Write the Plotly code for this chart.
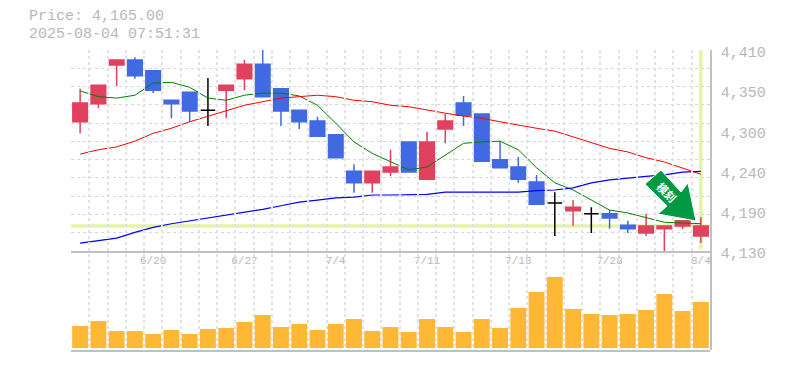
import plotly.graph_objects as go

dates = ["6/16","6/17","6/18","6/19","6/20","6/23","6/24","6/25","6/26","6/27",
         "6/30","7/1","7/2","7/3","7/4","7/7","7/8","7/9","7/10","7/11",
         "7/14","7/15","7/16","7/17","7/18","7/22","7/23","7/24","7/25","7/28",
         "7/29","7/30","7/31","8/1","8/4"]
opens = [4310,4335,4389,4396,4381,4340,4351,4326,4354,4370,
         4390,4356,4326,4311,4292,4241,4225,4240,4282,4230,
         4300,4336,4321,4257,4247,4226,4197,4186,4182,4182,
         4166,4155,4161,4165,4151]
highs = [4356,4361,4396,4400,4381,4340,4351,4371,4361,4396,
         4410,4356,4326,4317,4292,4251,4241,4271,4282,4296,
         4321,4346,4321,4283,4261,4236,4212,4201,4191,4187,
         4172,4182,4165,4172,4177]
lows = [4294,4329,4360,4370,4350,4315,4310,4304,4315,4354,
        4345,4304,4300,4290,4260,4211,4211,4234,4240,4230,
        4280,4304,4255,4246,4225,4195,4151,4165,4155,4161,
        4155,4151,4130,4161,4141]
closes = [4336,4361,4396,4374,4354,4335,4325,4326,4361,4390,
          4345,4325,4310,4290,4260,4225,4241,4247,4240,4282,
          4311,4319,4255,4246,4230,4195,4197,4191,4182,4176,
          4161,4165,4165,4172,4165]
ma_short = [4353,4345,4343,4347,4364,4365,4358,4343,4340,4347,
            4350,4350,4346,4333,4308,4282,4266,4254,4243,4247,
            4264,4280,4282,4283,4271,4246,4225,4215,4201,4187,
            4183,4176,4170,4169,4168]
ma_mid = [4265,4271,4275,4283,4294,4301,4310,4318,4325,4333,
          4338,4343,4345,4347,4345,4340,4338,4333,4331,4326,
          4322,4318,4315,4310,4305,4301,4297,4289,4282,4273,
          4268,4260,4254,4246,4237]
ma_long = [4141,4144,4148,4156,4163,4168,4172,4175,4180,4183,
           4188,4193,4198,4201,4204,4205,4208,4208,4208,4209,
           4212,4212,4212,4212,4212,4214,4215,4218,4225,4229,
           4232,4234,4236,4240,4241]
volumes = [22,27,17,17,14,18,14,19,20,26,33,21,24,18,24,29,17,21,16,29,
           21,16,29,20,40,56,71,39,34,33,34,38,54,37,46]
label_dates = ["6/20","6/27","7/4","7/11","7/18","7/28","8/4"]
price_tick_vals = [4410,4354,4298,4242,4186,4130]
price_tick_text = ["4,410","4,350","4,300","4,240","4,190","4,130"]
last_price = 4165
title_lines = ["Price: 4,165.00","2025-08-04 07:51:31"]
arrow_text = "模刻"

W, H = 785, 370
L, R, T, B = 71, 710, 50, 350
SPLIT = 251
FONT = "Liberation Mono"
GRAY = "#c0c0c0"
TEXT = "#b8b8b8"
GRID = "#d8d8d8"
VGRID = "#e2e2e2"
RED = "#e2405f"
BLUE = "#4169e1"

def px(x):
    return (x - L) / (R - L)
def py(y):
    return (B - y) / (B - T)

idx = list(range(len(dates)))
pick = lambda cond, arr: [v if c else None for v, c in zip(arr, cond)]
flat = [o == c for o, c in zip(opens, closes)]
moving = [not f for f in flat]

fig = go.Figure()
for vals, col, w in ((ma_short, "#008000", 1), (ma_mid, "#ff0000", 1), (ma_long, "#0000ff", 1.2)):
    fig.add_trace(go.Scatter(x=idx, y=vals, mode="lines", line=dict(color=col, width=w), hoverinfo="skip"))

fig.add_trace(go.Candlestick(
    x=idx, open=pick(moving, opens), high=pick(moving, highs), low=pick(moving, lows), close=pick(moving, closes),
    increasing=dict(line=dict(color=RED, width=1.5), fillcolor=RED),
    decreasing=dict(line=dict(color=BLUE, width=1.5), fillcolor=BLUE),
    whiskerwidth=0, hoverinfo="skip"))
fig.add_trace(go.Candlestick(
    x=idx, open=pick(flat, opens), high=pick(flat, highs), low=pick(flat, lows), close=pick(flat, closes),
    increasing=dict(line=dict(color="#000000", width=1.5), fillcolor="#000000"),
    decreasing=dict(line=dict(color="#000000", width=1.5), fillcolor="#000000"),
    whiskerwidth=0, hoverinfo="skip"))
fig.add_trace(go.Bar(x=idx, y=volumes, xaxis="x2", yaxis="y2", marker=dict(color="#ffb835", line=dict(width=0)),
                     width=0.87, hoverinfo="skip"))
fig.add_trace(go.Scatter(x=[None], y=[None], yaxis="y3", hoverinfo="skip"))

minor = dict(tickvals=[i - 0.5 for i in idx] + [len(idx) - 0.5], showgrid=True, gridcolor=VGRID,
             griddash="3px,3px", gridwidth=1.5, ticks="")
label_idx = [dates.index(d) for d in label_dates]

scale = 280 / 201
arrow_pts = [(661,170),(645,184),(667,206),(658,214),(696,221),(688,183),(681,192)]
path = "M " + " L ".join(f"{px(x):.4f},{py(y):.4f}" for x, y in arrow_pts) + " Z"

fig.update_layout(
    width=W, height=H, margin=dict(l=L, r=W - R, t=T, b=H - B, pad=0),
    paper_bgcolor="white", plot_bgcolor="rgba(0,0,0,0)", showlegend=False, dragmode=False,
    bargap=0.13, boxgap=0.2, boxgroupgap=0, boxmode="overlay",
    xaxis=dict(domain=[0, 1], range=[-0.5, 34.5], anchor="y", rangeslider=dict(visible=False),
               tickmode="array", tickvals=label_idx, ticktext=label_dates, showgrid=False, zeroline=False,
               ticks="", showline=True, linecolor=GRAY, linewidth=1.5, minor=minor, ticklabelstandoff=-2,
               tickfont=dict(family=FONT, size=11, color=TEXT)),
    xaxis2=dict(domain=[0, 1], range=[-0.5, 34.5], anchor="y2", showticklabels=False, showgrid=False,
                zeroline=False, ticks="", showline=True, linecolor=GRAY, linewidth=1.5,
                tickmode="array", tickvals=[]),
    yaxis=dict(domain=[py(SPLIT), 1], range=[4130, 4410], anchor="x", tickmode="array",
               tickvals=[4130 + k * 280 / 11 for k in range(12)], showticklabels=False, showgrid=True,
               gridcolor=GRID, griddash="3px,3px", gridwidth=1, zeroline=False, ticks="", showline=False),
    yaxis2=dict(domain=[0, py(SPLIT)], range=[-2, 97], anchor="x2", showgrid=False, showticklabels=False,
                zeroline=False, ticks="", showline=False),
    yaxis3=dict(domain=[0, 1], anchor="x", side="right",
                range=[4130 - (B - 253) * scale, 4130 + (253 - T) * scale], tickmode="array",
                tickvals=price_tick_vals, ticktext=price_tick_text, showgrid=False, zeroline=False,
                ticks="outside", ticklen=6, tickcolor="rgba(0,0,0,0)", showline=True, linecolor=GRAY, linewidth=1.5,
                tickfont=dict(family=FONT, size=15, color=TEXT)),
    shapes=[
        dict(type="line", xref="x", yref="y", x0=-0.5, x1=34.5, y0=last_price, y1=last_price,
             line=dict(color="#e3f6a6", width=3.5), layer="below"),
        dict(type="line", xref="x", yref="y", x0=34, x1=34, y0=4133, y1=4410,
             line=dict(color="#e3f6a6", width=3.5), layer="below"),
        dict(type="path", xref="paper", yref="paper", path=path, fillcolor="#009944",
             line=dict(color="white", width=1), layer="above"),
    ],
    annotations=[
        dict(text=title_lines[0], xref="paper", yref="paper", x=px(28), y=py(17), xanchor="left", yanchor="middle",
             showarrow=False, borderpad=0, font=dict(family=FONT, size=15, color=TEXT)),
        dict(text=title_lines[1], xref="paper", yref="paper", x=px(28), y=py(34), xanchor="left", yanchor="middle",
             showarrow=False, borderpad=0, font=dict(family=FONT, size=15, color=TEXT)),
        dict(text=f"<b>{arrow_text}</b>", xref="paper", yref="paper", x=px(667), y=py(192), xanchor="center",
             yanchor="middle", showarrow=False, textangle=45, font=dict(family="Noto Sans CJK JP", size=11, color="white")),
    ],
)
fig.write_html("out.html", config=dict(displayModeBar=False),
               post_script="document.body.style.margin='0';")
